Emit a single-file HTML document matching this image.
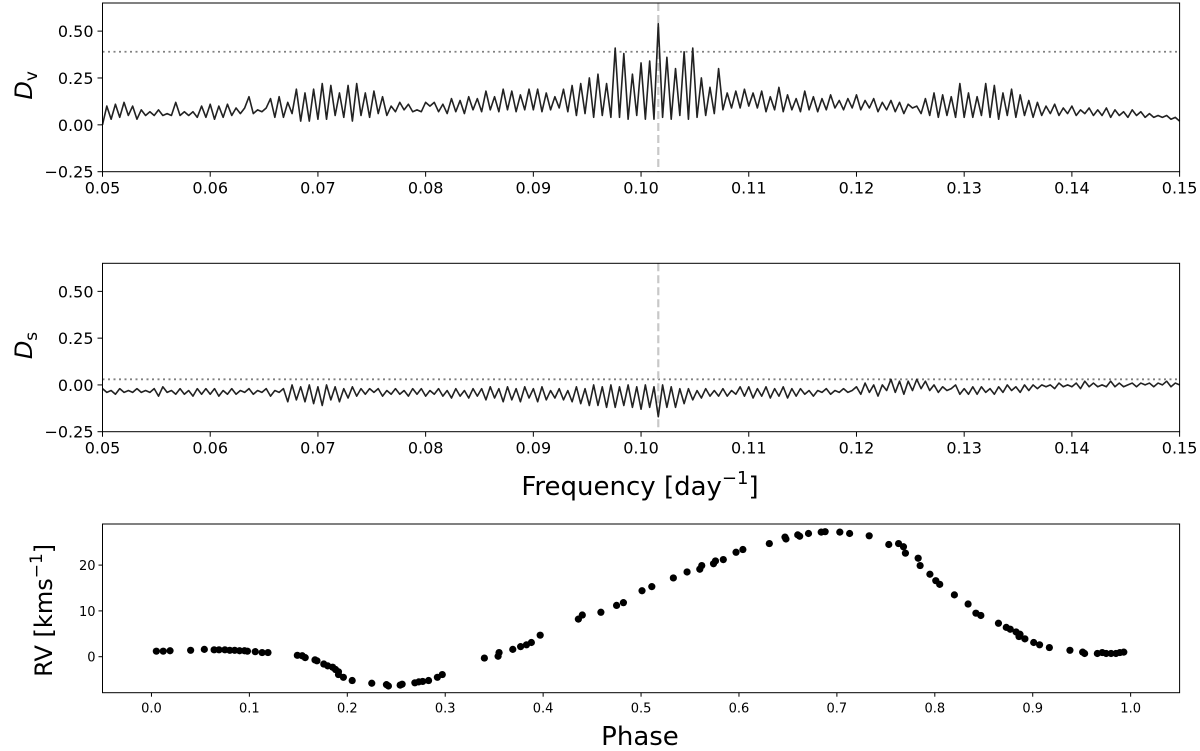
<!DOCTYPE html>
<html><head><meta charset="utf-8"><style>
html,body{margin:0;padding:0;background:#fff;}
svg{display:block;font-family:"DejaVu Sans","Liberation Sans",sans-serif;}
</style></head><body>
<svg id="fig" width="1200" height="751" viewBox="0 0 1200 751" xmlns="http://www.w3.org/2000/svg"></svg>
<script>
const freqStart = 0.05, freqStep = 0.0004;
const dvValues = [
0.00,0.10,0.03,0.11,0.04,0.12,0.05,0.10,0.03,0.08,0.05,0.07,0.05,0.08,0.05,0.06,0.05,0.12,0.05,0.07,0.05,0.07,0.04,0.10,0.04,
0.11,0.03,0.10,0.04,0.11,0.05,0.09,0.06,0.09,0.15,0.06,0.08,0.07,0.09,0.14,0.04,0.15,0.04,0.12,0.06,0.19,0.02,0.17,0.02,0.19,
0.03,0.22,0.03,0.21,0.05,0.17,0.04,0.21,0.02,0.22,0.05,0.17,0.04,0.18,0.06,0.15,0.05,0.10,0.07,0.12,0.08,0.11,0.07,0.08,0.07,
0.12,0.10,0.12,0.07,0.11,0.06,0.14,0.07,0.13,0.06,0.15,0.08,0.14,0.07,0.18,0.08,0.15,0.07,0.19,0.08,0.18,0.07,0.16,0.08,0.19,
0.08,0.19,0.07,0.17,0.08,0.15,0.09,0.19,0.07,0.21,0.05,0.22,0.06,0.25,0.04,0.27,0.05,0.22,0.04,0.41,0.04,0.38,0.03,0.27,0.05,
0.33,0.03,0.34,0.03,0.54,0.04,0.36,0.03,0.30,0.05,0.39,0.03,0.41,0.04,0.25,0.05,0.20,0.06,0.30,0.08,0.17,0.09,0.18,0.09,0.19,
0.10,0.17,0.09,0.18,0.07,0.15,0.08,0.20,0.07,0.16,0.08,0.14,0.07,0.18,0.08,0.15,0.07,0.14,0.08,0.16,0.09,0.13,0.08,0.14,0.09,
0.16,0.08,0.13,0.09,0.14,0.07,0.12,0.08,0.13,0.07,0.12,0.06,0.11,0.09,0.10,0.06,0.14,0.05,0.17,0.04,0.16,0.05,0.15,0.04,0.22,
0.04,0.17,0.04,0.15,0.05,0.22,0.04,0.21,0.03,0.17,0.05,0.19,0.04,0.16,0.05,0.13,0.04,0.12,0.05,0.10,0.06,0.11,0.05,0.09,0.06,
0.10,0.05,0.08,0.06,0.09,0.05,0.08,0.05,0.09,0.04,0.08,0.05,0.07,0.04,0.08,0.05,0.07,0.04,0.06,0.04,0.05,0.04,0.05,0.03,0.04,0.02];
const dsValues = [
-0.02,-0.04,-0.03,-0.05,-0.02,-0.04,-0.03,-0.04,-0.02,-0.04,-0.03,-0.04,-0.02,-0.06,-0.01,-0.04,-0.03,-0.05,-0.02,-0.05,-0.03,-0.06,-0.02,-0.05,-0.02,
-0.05,-0.02,-0.06,-0.03,-0.05,-0.02,-0.05,-0.03,-0.04,-0.02,-0.05,-0.03,-0.04,-0.02,-0.06,-0.03,-0.04,-0.02,-0.09,0.00,-0.08,-0.01,-0.09,0.00,-0.10,
-0.01,-0.11,0.00,-0.08,-0.01,-0.09,-0.02,-0.07,-0.01,-0.06,-0.02,-0.05,-0.02,-0.04,-0.02,-0.06,-0.03,-0.05,-0.02,-0.05,-0.03,-0.06,-0.02,-0.05,-0.02,
-0.06,-0.03,-0.05,-0.02,-0.06,-0.03,-0.07,-0.02,-0.06,-0.03,-0.07,-0.02,-0.06,-0.02,-0.08,-0.01,-0.07,-0.02,-0.09,-0.01,-0.08,-0.02,-0.09,-0.01,-0.07,
-0.02,-0.09,-0.01,-0.08,-0.03,-0.07,-0.02,-0.08,-0.03,-0.09,-0.01,-0.10,-0.02,-0.11,0.00,-0.11,-0.01,-0.12,0.00,-0.12,-0.01,-0.11,0.00,-0.12,-0.01,
-0.13,0.00,-0.12,-0.01,-0.17,0.00,-0.12,-0.01,-0.12,-0.02,-0.10,-0.02,-0.08,-0.03,-0.07,-0.02,-0.06,-0.03,-0.06,-0.02,-0.06,-0.03,-0.05,-0.01,-0.06,
-0.01,-0.07,-0.02,-0.06,-0.01,-0.07,-0.02,-0.06,-0.01,-0.07,-0.02,-0.06,-0.02,-0.05,-0.03,-0.06,-0.03,-0.04,-0.02,-0.05,-0.03,-0.04,-0.02,-0.04,-0.03,
-0.01,-0.05,0.01,-0.04,0.00,-0.06,0.00,-0.03,0.03,-0.04,0.02,-0.05,0.02,-0.03,0.03,-0.02,0.02,-0.03,0.00,-0.04,-0.01,-0.03,-0.02,0.00,-0.05,
-0.02,-0.05,-0.01,-0.05,-0.01,-0.04,-0.02,-0.05,-0.01,-0.04,0.00,-0.03,-0.01,-0.04,0.00,-0.03,0.00,-0.02,0.00,-0.01,0.00,-0.02,0.01,-0.01,0.00,
-0.01,0.01,-0.02,0.02,-0.01,0.01,-0.01,0.00,-0.01,0.02,-0.01,0.01,-0.01,0.00,0.01,-0.01,0.01,0.00,0.01,-0.01,0.01,0.00,0.02,-0.01,0.01,0.00];
const freqTicks = [0.05,0.06,0.07,0.08,0.09,0.10,0.11,0.12,0.13,0.14,0.15];
const freqTickLabels = ["0.05","0.06","0.07","0.08","0.09","0.10","0.11","0.12","0.13","0.14","0.15"];
const dTicks = [-0.25,0,0.25,0.5];
const dTickLabels = ["\u22120.25","0.00","0.25","0.50"];
const dvThreshold = 0.39, dsThreshold = 0.03, peakFreq = 0.1016;
const rvPhase = [0.005,0.012,0.019,0.040,0.054,0.064,0.069,0.075,0.080,0.085,0.090,0.095,0.098,0.106,0.113,0.119,
0.149,0.154,0.157,0.167,0.169,0.176,0.180,0.185,0.188,0.191,0.191,0.196,0.205,0.225,0.240,0.242,0.254,0.256,0.269,0.273,0.277,0.283,0.292,0.297,
0.340,0.354,0.355,0.369,0.377,0.383,0.388,0.397,0.436,0.440,0.459,0.475,0.482,0.501,0.511,0.533,0.547,0.560,0.562,0.574,0.576,0.584,0.597,0.604,
0.631,0.647,0.648,0.660,0.662,0.671,0.684,0.688,0.703,0.713,0.733,0.753,0.763,0.768,0.770,0.783,0.785,0.795,0.801,0.805,0.820,0.834,0.842,0.847,
0.865,0.873,0.877,0.883,0.887,0.886,0.892,0.901,0.907,0.917,0.938,0.951,0.953,0.966,0.971,0.975,0.980,0.985,0.989,0.993];
const rvValues = [1.2,1.2,1.3,1.4,1.6,1.5,1.5,1.5,1.4,1.4,1.3,1.3,1.2,1.1,0.9,0.9,
0.3,0.2,-0.2,-0.7,-0.9,-1.6,-2.0,-2.3,-2.8,-3.3,-3.9,-4.5,-5.2,-5.8,-6.1,-6.4,-6.2,-6.0,-5.7,-5.5,-5.4,-5.2,-4.5,-3.9,
-0.3,0.1,0.9,1.6,2.2,2.6,3.1,4.7,8.2,9.1,9.7,11.2,11.8,14.4,15.3,17.2,18.5,19.1,19.9,20.3,20.9,21.2,22.8,23.4,
24.7,26.1,25.7,26.6,26.3,26.9,27.2,27.3,27.2,26.9,26.4,24.5,24.7,24.0,22.6,21.5,19.9,18.0,16.6,15.8,13.5,11.5,9.5,9.0,
7.3,6.4,6.0,5.4,4.9,4.4,3.9,3.1,2.6,2.0,1.4,1.0,0.7,0.7,0.9,0.7,0.7,0.7,0.9,1.0];
const phaseTicks = [0,0.1,0.2,0.3,0.4,0.5,0.6,0.7,0.8,0.9,1.0];
const phaseTickLabels = ["0.0","0.1","0.2","0.3","0.4","0.5","0.6","0.7","0.8","0.9","1.0"];
const rvTicks = [0,10,20];
const rvTickLabels = ["0","10","20"];

const NS="http://www.w3.org/2000/svg";
const svg=document.getElementById('fig');
function mk(tag,attrs,parent){const e=document.createElementNS(NS,tag);for(const k in attrs)e.setAttribute(k,attrs[k]);(parent||svg).appendChild(e);return e;}
const L=102.5,R=1179.6;
function lin(d0,d1,p0,p1){return v=>p0+(v-d0)*(p1-p0)/(d1-d0);}

function freqPanel(name,top,bottom,vals,thr,ylab,sub,showXlabel){
  const g=mk('g',{});
  
  
  const x=lin(0.05,0.15,L,R), y=lin(-0.25,0.65,bottom,top);
  const th=mk('line',{x1:L,x2:R,y1:y(thr),y2:y(thr),stroke:'#808080','stroke-width':1.8,'stroke-dasharray':'2,3.5'},g);
  
  
  const pk=mk('line',{x1:x(peakFreq),x2:x(peakFreq),y1:top,y2:bottom,stroke:'#c8c8c8','stroke-width':2.2,'stroke-dasharray':'8,4'},g);
  
  
  let d='';
  vals.forEach((v,i)=>{d+=(i?'L':'M')+x(freqStart+i*freqStep).toFixed(2)+','+y(v).toFixed(2);});
  const ln=mk('path',{d:d,fill:'none',stroke:'#222','stroke-width':1.6,'stroke-linejoin':'round'},g);
  
  
  const fr=mk('rect',{x:L,y:top,width:R-L,height:bottom-top,fill:'none',stroke:'#000','stroke-width':1},g);
  
  
  freqTicks.forEach((t,i)=>{
    mk('line',{x1:x(t),x2:x(t),y1:bottom,y2:bottom+5,stroke:'#000'},g);
    const tx=mk('text',{x:x(t),y:bottom+22,'text-anchor':'middle','font-size':16},g);
    tx.textContent=freqTickLabels[i];
    
    
  });
  dTicks.forEach((t,i)=>{
    mk('line',{x1:L-5,x2:L,y1:y(t),y2:y(t),stroke:'#000'},g);
    const tx=mk('text',{x:L-9,y:y(t)+6,'text-anchor':'end','font-size':16},g);
    tx.textContent=dTickLabels[i];
    
    
  });
  const yl=mk('text',{transform:`translate(32,${(top+bottom)/2-2}) rotate(-90)`,'text-anchor':'middle','font-size':24},g);
  yl.innerHTML=`<tspan font-style="italic">D</tspan><tspan font-size="17" dy="5">${sub}</tspan>`;
  
  
  if(showXlabel){
    const xl=mk('text',{x:640,y:495,'text-anchor':'middle','font-size':26},g);
    xl.innerHTML='Frequency [day<tspan font-size="18" dy="-11">\u22121</tspan><tspan dy="11">]</tspan>';
    
    
  }
}
freqPanel('dv-panel',3,171.7,dvValues,dvThreshold,'Dv','v',false);
freqPanel('ds-panel',263.3,431.7,dsValues,dsThreshold,'Ds','s',true);

(function(){
  const top=524,bottom=692.7;
  const g=mk('g',{});
  
  
  const x=lin(-0.05,1.05,L,R), y=lin(0,10,656.7,610.9);
  rvPhase.forEach((p,i)=>{
    const c=mk('circle',{cx:x(p).toFixed(2),cy:y(rvValues[i]).toFixed(2),r:3.6,fill:'#000'},g);
    
    
  });
  const fr=mk('rect',{x:L,y:top,width:R-L,height:bottom-top,fill:'none',stroke:'#000','stroke-width':1},g);
  
  
  phaseTicks.forEach((t,i)=>{
    mk('line',{x1:x(t),x2:x(t),y1:bottom,y2:bottom+4,stroke:'#000'},g);
    const tx=mk('text',{x:x(t),y:bottom+20,'text-anchor':'middle','font-size':13},g);
    tx.textContent=phaseTickLabels[i];
    
    
  });
  rvTicks.forEach((t,i)=>{
    mk('line',{x1:L-4,x2:L,y1:y(t),y2:y(t),stroke:'#000'},g);
    const tx=mk('text',{x:L-7,y:y(t)+5,'text-anchor':'end','font-size':13},g);
    tx.textContent=rvTickLabels[i];
    
    
  });
  const yl=mk('text',{transform:`translate(52,${(top+bottom)/2+2}) rotate(-90)`,'text-anchor':'middle','font-size':24},g);
  yl.innerHTML='RV [kms<tspan font-size="17" dy="-10">\u22121</tspan><tspan dy="10">]</tspan>';
  
  
  const xl=mk('text',{x:640,y:745,'text-anchor':'middle','font-size':26},g);
  xl.textContent='Phase';
  
  
})();
</script>
</body></html>
